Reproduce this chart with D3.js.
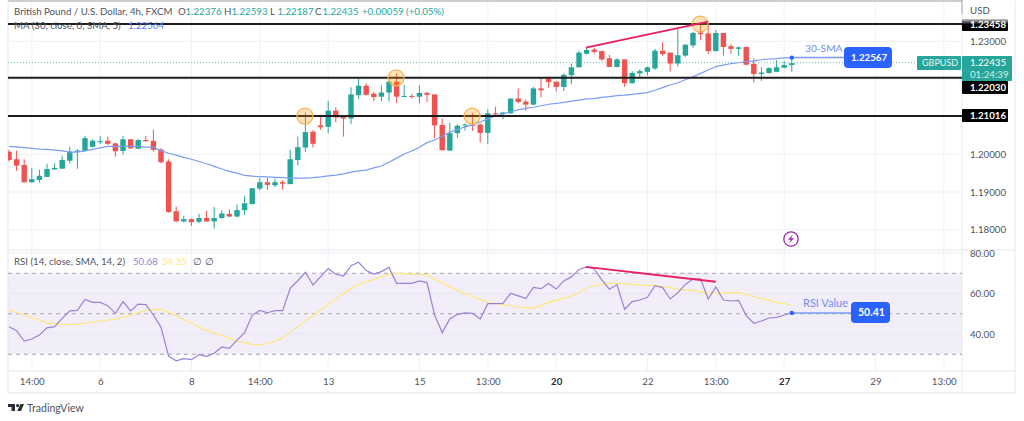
<!DOCTYPE html>
<html>
<head>
<meta charset="utf-8">
<title>GBPUSD 4h</title>
<script src="https://cdn.jsdelivr.net/npm/d3@7"></script>
<style>
  html, body { margin: 0; padding: 0; background: #fff; overflow: hidden; }
  text { font-family: Lato, sans-serif; }
</style>
</head>
<body>
<div id="chart"></div>
<script>
// Candles
var opens = [1.2007,1.1987,1.1972,1.1926,1.1932,1.1940,1.1960,1.1962,1.1983,1.2007,1.2009,1.2020,1.2033,1.2036,1.2029,1.2009,1.2040,1.2015,1.2038,1.2036,1.2013,1.1981,1.1849,1.1822,1.1828,1.1821,1.1831,1.1822,1.1831,1.1842,1.1835,1.1852,1.1868,1.1909,1.1926,1.1918,1.1926,1.1921,1.1985,1.2018,1.2060,1.2077,1.2073,1.2116,1.2100,1.2095,1.2157,1.2182,1.2161,1.2153,1.2164,1.2193,1.2153,1.2155,1.2153,1.2163,1.2159,1.2078,1.2010,1.2056,1.2077,1.2079,1.2079,1.2057,1.2109,1.2107,1.2109,1.2148,1.2140,1.2132,1.2175,1.2201,1.2193,1.2179,1.2210,1.2231,1.2267,1.2278,1.2274,1.2255,1.2232,1.2252,1.2189,1.2215,1.2219,1.2228,1.2275,1.2270,1.2241,1.2262,1.2289,1.2323,1.2321,1.2274,1.2322,1.2287,1.2280,1.2285,1.2240,1.2213,1.2216,1.2219,1.2230,1.2237];
var highs = [1.2012,1.2010,1.1987,1.1964,1.1959,1.1975,1.1976,1.1996,1.2020,1.2014,1.2049,1.2040,1.2049,1.2047,1.2031,1.2049,1.2040,1.2040,1.2049,1.2066,1.2016,1.1987,1.1861,1.1837,1.1830,1.1842,1.1850,1.1860,1.1851,1.1854,1.1867,1.1890,1.1910,1.1937,1.1938,1.1935,1.1932,1.2012,1.2047,1.2111,1.2065,1.2105,1.2142,1.2125,1.2104,1.2178,1.2200,1.2188,1.2166,1.2183,1.2206,1.2215,1.2184,1.2161,1.2183,1.2166,1.2159,1.2095,1.2084,1.2080,1.2082,1.2110,1.2082,1.2119,1.2127,1.2113,1.2148,1.2175,1.2146,1.2179,1.2202,1.2206,1.2193,1.2215,1.2241,1.2275,1.2283,1.2283,1.2275,1.2264,1.2255,1.2252,1.2221,1.2226,1.2233,1.2280,1.2297,1.2270,1.2334,1.2292,1.2325,1.2346,1.2348,1.2330,1.2322,1.2293,1.2286,1.2285,1.2255,1.2231,1.2231,1.2250,1.2248,1.2255];
var lows = [1.1981,1.1956,1.1926,1.1924,1.1925,1.1940,1.1959,1.1962,1.1976,1.1962,1.2007,1.2018,1.2027,1.2025,1.1994,1.2000,1.2014,1.2014,1.2033,1.2007,1.1976,1.1845,1.1821,1.1819,1.1810,1.1817,1.1821,1.1803,1.1829,1.1833,1.1833,1.1839,1.1867,1.1904,1.1906,1.1913,1.1906,1.1921,1.1971,1.2007,1.2018,1.2065,1.2056,1.2085,1.2047,1.2080,1.2147,1.2156,1.2141,1.2141,1.2140,1.2136,1.2152,1.2148,1.2135,1.2139,1.2042,1.2010,1.2010,1.2044,1.2063,1.2062,1.2031,1.2027,1.2100,1.2093,1.2107,1.2136,1.2116,1.2131,1.2151,1.2177,1.2167,1.2168,1.2186,1.2231,1.2265,1.2266,1.2248,1.2231,1.2231,1.2179,1.2187,1.2202,1.2209,1.2224,1.2261,1.2220,1.2233,1.2259,1.2283,1.2303,1.2266,1.2273,1.2262,1.2267,1.2262,1.2236,1.2191,1.2195,1.2214,1.2218,1.2228,1.2219];
var closes = [1.1985,1.1970,1.1926,1.1934,1.1943,1.1961,1.1964,1.1985,1.2007,1.2010,1.2043,1.2036,1.2035,1.2028,1.2008,1.2040,1.2016,1.2038,1.2035,1.2012,1.1979,1.1847,1.1822,1.1828,1.1820,1.1831,1.1822,1.1831,1.1843,1.1835,1.1852,1.1870,1.1910,1.1926,1.1919,1.1926,1.1922,1.1987,1.2019,1.2059,1.2028,1.2072,1.2116,1.2098,1.2095,1.2159,1.2182,1.2158,1.2152,1.2164,1.2193,1.2153,1.2155,1.2153,1.2163,1.2158,1.2077,1.2011,1.2056,1.2076,1.2079,1.2076,1.2057,1.2109,1.2106,1.2111,1.2148,1.2139,1.2132,1.2175,1.2170,1.2192,1.2179,1.2211,1.2231,1.2270,1.2277,1.2272,1.2252,1.2232,1.2252,1.2189,1.2216,1.2221,1.2231,1.2275,1.2266,1.2241,1.2263,1.2291,1.2322,1.2319,1.2274,1.2322,1.2285,1.2280,1.2284,1.2238,1.2213,1.2217,1.2229,1.2231,1.2237,1.2242];

// 30 SMA
var smaValues = [1.2021,1.2020,1.2018,1.2016,1.2014,1.2013,1.2011,1.2009,1.2006,1.2006,1.2009,1.2013,1.2017,1.2021,1.2021,1.2021,1.2021,1.2021,1.2019,1.2019,1.2010,1.2003,1.1998,1.1992,1.1987,1.1981,1.1975,1.1968,1.1961,1.1955,1.1950,1.1944,1.1942,1.1941,1.1940,1.1939,1.1938,1.1937,1.1937,1.1937,1.1938,1.1940,1.1943,1.1945,1.1948,1.1953,1.1956,1.1958,1.1964,1.1969,1.1979,1.1990,1.2001,1.2009,1.2019,1.2031,1.2038,1.2048,1.2059,1.2066,1.2073,1.2078,1.2086,1.2094,1.2102,1.2107,1.2113,1.2118,1.2122,1.2125,1.2129,1.2133,1.2135,1.2138,1.2141,1.2144,1.2147,1.2148,1.2151,1.2153,1.2156,1.2157,1.2159,1.2162,1.2164,1.2170,1.2177,1.2184,1.2190,1.2198,1.2206,1.2215,1.2224,1.2233,1.2237,1.2241,1.2243,1.2246,1.2248,1.2251,1.2253,1.2254,1.2256,1.2256];

// RSI and its SMA
var rsiValues = [43.6,41.6,36.5,37.5,39.5,43.0,43.6,47.7,51.4,51.7,57.1,55.6,55.6,54.0,50.2,56.0,51.4,54.8,54.5,49.4,43.3,29.1,26.8,27.8,27.3,29.8,29.0,30.5,33.6,32.9,37.0,40.7,49.2,51.7,50.5,51.5,51.5,62.5,66.3,70.5,64.2,68.3,72.3,69.5,68.6,73.7,75.4,71.3,69.6,70.8,72.9,65.0,65.0,65.0,66.2,65.4,49.4,40.7,47.4,49.7,50.4,50.2,47.4,55.0,55.0,55.1,60.1,58.8,57.5,63.0,62.4,64.9,62.2,66.2,68.2,71.9,73.1,72.1,66.7,62.1,64.4,52.2,56.0,56.8,58.1,63.9,62.9,57.3,60.4,64.5,67.2,67.2,57.3,63.2,56.8,56.3,56.6,49.1,45.3,46.4,47.9,48.2,49.4,50.5];
var rsiSmaValues = [51.9,50.5,49.4,48.1,46.8,45.4,45.1,44.8,44.8,44.8,45.4,45.9,46.4,46.9,47.4,48.2,49.4,50.5,51.7,52.2,52.2,50.7,49.1,47.1,45.3,43.5,41.8,40.5,39.2,37.9,36.5,35.7,34.9,34.7,35.2,36.5,38.2,40.8,43.6,46.4,49.1,51.9,54.6,57.1,60.1,62.6,64.5,65.8,67.0,68.3,69.6,70.0,69.8,69.6,69.5,69.3,67.2,65.2,63.4,61.6,59.9,58.4,57.1,55.8,55.1,54.5,54.0,53.3,53.0,52.8,54.0,55.6,56.6,57.6,58.8,60.4,62.6,63.7,64.5,65.0,65.0,64.9,64.5,64.2,64.0,63.9,63.4,62.9,62.2,61.7,61.4,60.9,60.2,60.1,60.2,60.4,60.4,59.6,58.4,57.5,56.6,55.6,55.0,54.3];

// axes
var timeTicks = [3,12,24,33,42,54,63,72,84,93,102,114,123];
var timeLabels = ["14:00","6","8","14:00","13","15","13:00","20","22","13:00","27","29","13:00"];
var boldTimes = ["20","27"];
var priceTicks = [1.18,1.19,1.20,1.23];
var priceGrid = [1.18,1.19,1.20,1.21,1.22,1.23];
var rsiTicks = [40,60,80];
var rsiGrid = [40,60,80];
var rsiBands = [70,50,30];

// drawings on the chart
var levels = [1.23458,1.2203,1.21016];
var signalBars = [{i:39,p:1.21016},{i:51,p:1.2203},{i:61,p:1.21016},{i:91,p:1.23458}];
var priceTrend = [{i:75.9,v:1.2283},{i:92,v:1.2352}];
var rsiTrend = [{i:75.9,v:73.1},{i:93,v:65.8}];
var lastPrice = 1.22435;
var lastSma = 1.22567;
var lastRsi = 50.41;

var GREEN = "#26a69a", RED = "#ef5350", BLUE = "#2962ff", GREY = "#50535e";
var FS = 9.7;

var svg = d3.select("#chart").append("svg").attr("width", 1024).attr("height", 421);

var paneLeft = 8, paneRight = 962, paneTop = 1, split = 250, axisTop = 371, paneBottom = 393, outer = 1015;

var x = d3.scaleLinear().domain([0, 125]).range([9, 959]);
var yPrice = d3.scaleLinear().domain([1.18, 1.23]).range([229.7, 41.3]);
var yRsi = d3.scaleLinear().domain([40, 80]).range([334, 253]);

svg.append("defs").append("clipPath").attr("id", "pane")
  .append("rect").attr("x", paneLeft).attr("y", paneTop).attr("width", paneRight - paneLeft).attr("height", split - paneTop);
var fade = svg.select("defs").append("linearGradient").attr("id", "fade")
  .attr("x1", 0).attr("x2", 0).attr("y1", 0).attr("y2", 1);
fade.append("stop").attr("offset", "0%").attr("stop-color", "#000").attr("stop-opacity", 0.2);
fade.append("stop").attr("offset", "45%").attr("stop-color", "#000");

// RSI band
svg.append("rect").attr("x", paneLeft).attr("width", paneRight - paneLeft)
  .attr("y", yRsi(70)).attr("height", yRsi(30) - yRsi(70))
  .attr("fill", "#7e57c2").attr("fill-opacity", 0.1);

// grid
var grid = svg.append("g").attr("stroke", "#f0f1f4").attr("stroke-width", 1);
timeTicks.forEach(function(t) {
  grid.append("line").attr("x1", x(t)).attr("x2", x(t)).attr("y1", paneTop).attr("y2", axisTop);
});
priceGrid.forEach(function(p) {
  grid.append("line").attr("x1", paneLeft).attr("x2", paneRight).attr("y1", yPrice(p)).attr("y2", yPrice(p));
});
rsiGrid.forEach(function(v) {
  grid.append("line").attr("x1", paneLeft).attr("x2", paneRight).attr("y1", yRsi(v)).attr("y2", yRsi(v))
    .attr("stroke", "#e9e6f2");
});

// frame
var frame = svg.append("g").attr("stroke", "#e6e7ea").attr("fill", "none");
frame.append("line").attr("x1", paneLeft).attr("x2", paneRight).attr("y1", 1).attr("y2", 1).attr("stroke", "#9a9ca3");
frame.append("line").attr("x1", paneRight).attr("x2", paneRight).attr("y1", 0).attr("y2", 14).attr("stroke", "#9a9ca3");
frame.append("line").attr("x1", paneRight).attr("x2", paneRight).attr("y1", 14).attr("y2", paneBottom);
frame.append("line").attr("x1", paneLeft).attr("x2", paneLeft).attr("y1", 1).attr("y2", paneBottom);
frame.append("line").attr("x1", outer).attr("x2", outer).attr("y1", 1).attr("y2", paneBottom);
frame.append("line").attr("x1", paneLeft).attr("x2", outer).attr("y1", split).attr("y2", split);
frame.append("line").attr("x1", paneLeft).attr("x2", outer).attr("y1", axisTop).attr("y2", axisTop);
frame.append("line").attr("x1", paneLeft).attr("x2", outer).attr("y1", paneBottom).attr("y2", paneBottom);

// last price dotted line
svg.append("line").attr("x1", paneLeft).attr("x2", 917)
  .attr("y1", yPrice(lastPrice)).attr("y2", yPrice(lastPrice))
  .attr("stroke", GREEN).attr("stroke-dasharray", "1 2").attr("stroke-opacity", 0.7);

// candles
var idx = d3.range(opens.length);
var candles = svg.append("g").attr("clip-path", "url(#pane)");
candles.selectAll("line.wick").data(idx).enter().append("line")
  .attr("class", "wick")
  .attr("x1", function(d) { return x(d); })
  .attr("x2", function(d) { return x(d); })
  .attr("y1", function(d) { return yPrice(highs[d]); })
  .attr("y2", function(d) { return yPrice(lows[d]); })
  .attr("stroke", function(d) { return closes[d] >= opens[d] ? GREEN : RED; })
  .attr("stroke-width", 1);
candles.selectAll("rect.body").data(idx).enter().append("rect")
  .attr("class", "body")
  .attr("x", function(d) { return x(d) - 2.7; })
  .attr("width", 5.4)
  .attr("y", function(d) { return yPrice(Math.max(opens[d], closes[d])); })
  .attr("height", function(d) { return Math.max(1, Math.abs(yPrice(opens[d]) - yPrice(closes[d]))); })
  .attr("fill", function(d) { return closes[d] >= opens[d] ? GREEN : RED; });

// SMA
var smaLine = d3.line().x(function(d, i) { return x(i); }).y(function(d) { return yPrice(d); });
candles.append("path").datum(smaValues).attr("d", smaLine)
  .attr("fill", "none").attr("stroke", "#7c9cf5").attr("stroke-width", 1.2);

// horizontal levels
levels.forEach(function(p) {
  svg.append("line").attr("x1", paneLeft).attr("x2", paneRight).attr("y1", yPrice(p)).attr("y2", yPrice(p))
    .attr("stroke", "#1e1e1e").attr("stroke-width", 2);
});

// signal circles
svg.selectAll("circle.signal").data(signalBars).enter().append("circle")
  .attr("class", "signal")
  .attr("cx", function(d) { return x(d.i) - 0.5; })
  .attr("cy", function(d) { return yPrice(d.p); })
  .attr("r", 8)
  .attr("fill", "#ff9800").attr("fill-opacity", 0.28)
  .attr("stroke", "#f7b55a").attr("stroke-width", 1.2);

// trend line price
svg.append("line")
  .attr("x1", x(priceTrend[0].i)).attr("y1", yPrice(priceTrend[0].v))
  .attr("x2", x(priceTrend[1].i)).attr("y2", yPrice(priceTrend[1].v))
  .attr("stroke", "#e91e63").attr("stroke-width", 1.8);

// RSI dashed bands
rsiBands.forEach(function(v) {
  svg.append("line").attr("x1", paneLeft).attr("x2", paneRight).attr("y1", yRsi(v)).attr("y2", yRsi(v))
    .attr("stroke", "#a3a5ad").attr("stroke-dasharray", "4 4");
});

// RSI lines
var rsiLine = d3.line().x(function(d, i) { return x(i); }).y(function(d) { return yRsi(d); });
svg.append("path").datum(rsiSmaValues).attr("d", rsiLine)
  .attr("fill", "none").attr("stroke", "#ffe77a").attr("stroke-width", 1.2);
svg.append("path").datum(rsiValues).attr("d", rsiLine)
  .attr("fill", "none").attr("stroke", "#9b82d6").attr("stroke-width", 1.2);
svg.append("line")
  .attr("x1", x(rsiTrend[0].i)).attr("y1", yRsi(rsiTrend[0].v))
  .attr("x2", x(rsiTrend[1].i)).attr("y2", yRsi(rsiTrend[1].v))
  .attr("stroke", "#e91e63").attr("stroke-width", 1.8);

// Axes
var lastX = x(opens.length - 1);
var xAxis = d3.axisBottom(x).tickValues(timeTicks).tickSize(0).tickPadding(0)
  .tickFormat(function(d, i) { return timeLabels[i]; });
var gx = svg.append("g").attr("transform", "translate(0," + 382 + ")").call(xAxis);
gx.select(".domain").remove();
gx.selectAll("text")
  .attr("y", 0).attr("dy", "0.35em")
  .attr("font-size", FS).style("font-family", "Lato, sans-serif")
  .attr("fill", function(d, i) { return boldTimes.indexOf(timeLabels[i]) >= 0 ? "#2a2e39" : "#50535e"; })
  .attr("font-weight", function(d, i) { return boldTimes.indexOf(timeLabels[i]) >= 0 ? 700 : 400; });

var pAxis = d3.axisRight(yPrice).tickValues(priceTicks).tickSize(0).tickPadding(0)
  .tickFormat(d3.format(".5f"));
var gp = svg.append("g").attr("transform", "translate(" + 970 + ",0)").call(pAxis);
gp.select(".domain").remove();
gp.selectAll("text").attr("x", 0).attr("font-size", FS).attr("fill", GREY)
  .style("font-family", "Lato, sans-serif");

var rAxis = d3.axisRight(yRsi).tickValues(rsiTicks).tickSize(0).tickPadding(0)
  .tickFormat(d3.format(".2f"));
var gr = svg.append("g").attr("transform", "translate(" + 970 + ",0)").call(rAxis);
gr.select(".domain").remove();
gr.selectAll("text").attr("x", 0).attr("font-size", FS).attr("fill", GREY)
  .style("font-family", "Lato, sans-serif");

function label(tx, ty, s, color, size, weight) {
  return svg.append("text").attr("x", tx).attr("y", ty).attr("dy", "0.35em").text(s)
    .attr("fill", color).attr("font-size", size || FS).attr("font-weight", weight || 400);
}
function tag(bx, by, w, h, r, color) {
  return svg.append("rect").attr("x", bx).attr("y", by).attr("width", w).attr("height", h).attr("rx", r).attr("fill", color);
}

label(970, 11, "USD", GREY);

// level tags on price axis
tag(962, 19, 46, 12, 1, "url(#fade)");
label(970, 25, "1.23458", "#fff", FS, 700);
tag(962, 81, 46, 13, 1, "#000");
label(970, 87.5, "1.22030", "#fff", FS, 700);
tag(962, 109, 46, 13, 1, "#000");
label(970, 116, "1.21016", "#fff", FS, 700);

// current price tag
tag(917, 56, 44, 14, 1, GREEN);
label(922, 63, "GBPUSD", "#e6f5f3", 9);
tag(962, 56, 50, 25, 1, GREEN);
label(970, 62.5, "1.22435", "#fff");
label(970, 74.5, "01:24:39", "#d5efec");

// 30-SMA annotation
svg.append("line").attr("x1", lastX).attr("x2", 846).attr("y1", yPrice(lastSma)).attr("y2", yPrice(lastSma))
  .attr("stroke", "#7c9cf5").attr("stroke-width", 1.5);
svg.append("circle").attr("cx", lastX).attr("cy", yPrice(lastSma)).attr("r", 2.2).attr("fill", BLUE);
label(805, 48, "30-SMA", "#6f8ff2", 10.2);
tag(844, 47, 48, 21, 4, BLUE);
label(851, 57.5, "1.22567", "#fff", FS, 700);

// RSI value annotation
svg.append("line").attr("x1", lastX).attr("x2", 852).attr("y1", yRsi(lastRsi)).attr("y2", yRsi(lastRsi))
  .attr("stroke", "#7c9cf5").attr("stroke-width", 1.5);
svg.append("circle").attr("cx", lastX).attr("cy", yRsi(lastRsi)).attr("r", 2.2).attr("fill", BLUE);
label(803, 303, "RSI Value", "#6f8ff2", 11);
tag(851, 302, 39, 21, 4, BLUE);
label(858, 312.5, "50.41", "#fff", 10.5, 700);

// legends
label(14, 12, "British Pound / U.S. Dollar, 4h, FXCM", GREY);
[["O", "1.22376", 178], ["H", "1.22593", 224], ["L", "1.22187", 270], ["C", "1.22435", 315]].forEach(function(d) {
  label(d[2], 12, d[0], GREY);
  label(d[2] + 7.5, 12, d[1], GREEN);
});
label(362, 12, "+0.00059 (+0.05%)", GREEN);
label(14, 26, "MA (30, close, 0, SMA, 5)", GREY);
label(128, 26, "1.22564", "#5b82f5");
label(14, 262, "RSI (14, close, SMA, 14, 2)", GREY);
label(133, 262, "50.68", "#9b82d6");
label(162, 262, "54.35", "#ffe77a");
label(193, 262, "\u2205", GREY);
label(205, 262, "\u2205", GREY);

// lightning icon
svg.append("circle").attr("cx", 791).attr("cy", 239).attr("r", 7.2)
  .attr("fill", "#fff").attr("stroke", "#9c27b0").attr("stroke-width", 1.3);
svg.append("path").attr("d", "M792.8 234.5 L788 239.8 L790.8 239.8 L789.2 243.5 L794 238.2 L791.2 238.2 Z").attr("fill", "#9c27b0");

// TradingView logo
svg.append("path").attr("fill", "#2a2e39")
  .attr("d", "M8 404 H15 V411 H11.5 V407 H8 Z M20.5 404 H24 L21 411 H17.2 Z");
svg.append("circle").attr("cx", 17.6).attr("cy", 405.6).attr("r", 1.6).attr("fill", "#2a2e39");
label(27, 408, "TradingView", "#50535e", 10.5);
</script>
</body>
</html>
